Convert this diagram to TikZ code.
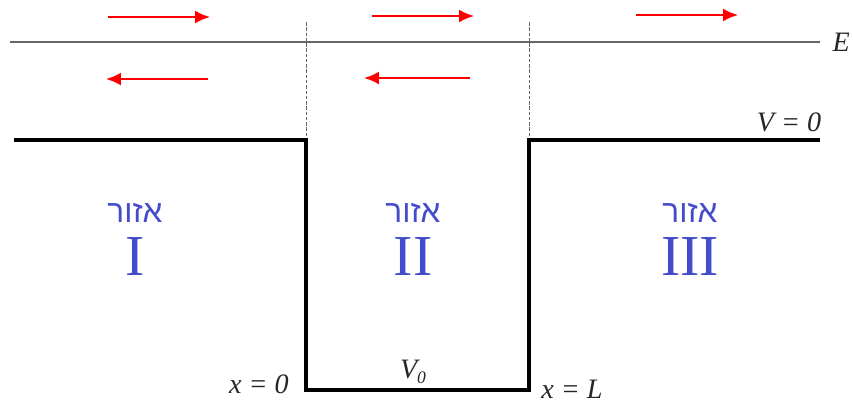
\documentclass[tikz,border=0pt]{standalone}
\usepackage{fontspec}
\setmainfont{Liberation Serif}
\newfontfamily\hebfont[Script=Hebrew]{Liberation Sans}
\TeXXeTstate=1
\usetikzlibrary{arrows.meta, positioning}
\definecolor{zoneblue}{RGB}{68,76,204}

\begin{document}
\begin{tikzpicture}[
        x=0.02cm, y=-0.02cm,
        >={Latex[length=3mm, width=2.6mm]},
        % estilos
        wave/.style={->, red, line width=1.2pt},
        well/.style={line width=2.8pt, line join=miter},
        energy/.style={draw=black!60, line width=0.6pt},
        border/.style={draw=black!60, dashed, dash pattern=on 2pt off 1pt, line width=0.5pt},
        zone/.style={text=zoneblue, font=\hebfont\fontsize{18}{20}\selectfont, inner sep=0pt},
        numeral/.style={text=zoneblue, font=\fontsize{33}{36}\selectfont, inner sep=0pt},
        lbl/.style={text=black!85, font=\itshape\fontsize{16}{18}\selectfont, inner sep=0pt}
    ]
        \useasboundingbox (0,0) rectangle (853,403);

        % Nivel de energia
        \coordinate (eL) at (10,42);
        \coordinate (eR) at (820,42);
        \draw[energy] (eL) -- (eR);
        \node[lbl, right=7pt of eR] (eLabel) {E};

        % Fronteras
        \coordinate (b0top) at (306,22);
        \coordinate (b0bot) at (306,138);
        \coordinate (bLtop) at (529,22);
        \coordinate (bLbot) at (529,138);
        \draw[border] (b0top) -- (b0bot);
        \draw[border] (bLtop) -- (bLbot);

        % Pozo de potencial
        \coordinate (wA) at (14,140);
        \coordinate (wB) at (306,140);
        \coordinate (wC) at (306,390);
        \coordinate (wD) at (529,390);
        \coordinate (wE) at (529,140);
        \coordinate (wF) at (820,140);
        \draw[well] (wA) -- (wB) -- (wC) -- (wD) -- (wE) -- (wF);

        \node[lbl] (vzero) at (789,122) {V = 0};
        \node[lbl] (vnull) at (413,372) {V\raisebox{-0.35ex}{\fontsize{10}{11}\selectfont 0}};
        \node[lbl] (xzero) at (259,384) {x = 0};
        \node[lbl] (xell) at (572,389) {x = L};

        % Ondas
        \coordinate (a1s) at (108,17);  \coordinate (a1e) at (210,17);
        \coordinate (a2s) at (372,16);  \coordinate (a2e) at (474,16);
        \coordinate (a3s) at (636,15);  \coordinate (a3e) at (738,15);
        \coordinate (r1s) at (208,79);  \coordinate (r1e) at (106,79);
        \coordinate (r2s) at (470,78);  \coordinate (r2e) at (364,78);
        \draw[wave] (a1s) -- (a1e);
        \draw[wave] (a2s) -- (a2e);
        \draw[wave] (a3s) -- (a3e);
        \draw[wave] (r1s) -- (r1e);
        \draw[wave] (r2s) -- (r2e);

        % Regiones
        \node[zone] (zoneI) at (135,213) {\beginR אזור\endR};
        \node[zone] (zoneII) at (413,213) {\beginR אזור\endR};
        \node[zone] (zoneIII) at (690,213) {\beginR אזור\endR};
        \node[numeral, below=8pt of zoneI] (numI) {I};
        \node[numeral, below=8pt of zoneII] (numII) {II};
        \node[numeral, below=8pt of zoneIII] (numIII) {III};

    \end{tikzpicture}
\end{document}
